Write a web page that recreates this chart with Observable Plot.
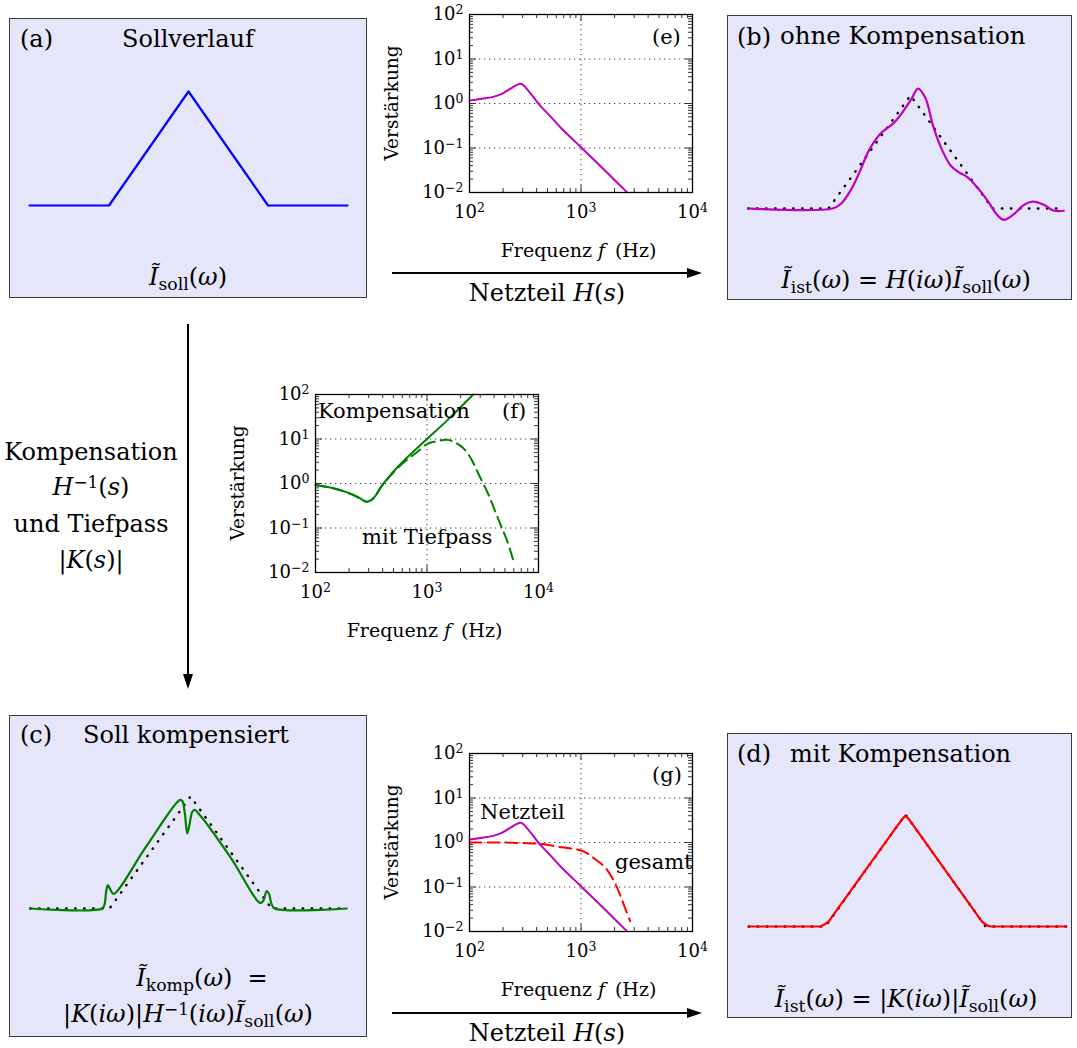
<!DOCTYPE html>
<html><head><meta charset="utf-8">
<script src="https://cdn.jsdelivr.net/npm/d3@7"></script>
<script src="https://cdn.jsdelivr.net/npm/@observablehq/plot@0.6"></script>
<style>
body{margin:0;background:#fff;}
#root{position:relative;width:1077px;height:1048px;overflow:hidden;font-family:"DejaVu Serif",serif;color:#000;}
.sub{font-size:0.72em;position:relative;top:0.32em;}
.sup{font-size:0.7em;position:relative;top:-0.42em;}
</style></head>
<body><div id="root"></div>
<script>
// ---------- data: shape panels (x in triangle half-widths, y in peak heights) ----------
const sollX = [-2, -1, 0, 1, 2];
const sollY = [0, 0, 1, 0, 0];
const ohneRefX = [-1.98, -1, 0, 1, 1.87];
const kompRefX = [-1.98, -1, 0, 1, 1.94];
const mitRefX = [-1.96, -1, 0, 1, 2.01];
const refY = [0, 0, 1, 0, 0];
const ohneX = [-1.98,-0.95,-0.85,-0.73,-0.61,-0.51,-0.37,-0.20,-0.08,0.02,0.09,0.18,0.28,0.39,0.49,0.59,0.69,0.81,0.94,1.06,1.14,1.26,1.38,1.50,1.63,1.75,1.87];
const ohneY = [0,0,0.04,0.16,0.34,0.51,0.66,0.76,0.87,0.98,1.06,0.98,0.72,0.51,0.38,0.32,0.28,0.19,0.07,-0.06,-0.10,-0.05,0.03,0.06,0.03,-0.02,-0.02];
const kompX = [-1.98,-1.09,-1.06,-1.04,-1.02,-0.99,-0.95,-0.55,-0.13,-0.10,-0.07,-0.04,-0.01,0.02,0.05,0.12,0.50,0.86,0.90,0.94,0.97,1.00,1.04,1.93];
const kompY = [0,0,0.04,0.16,0.21,0.17,0.13,0.55,0.97,0.96,0.85,0.67,0.76,0.86,0.88,0.83,0.45,0.05,0.07,0.155,0.13,0.04,0,0];
const mitX = [-1.96,-1.07,-1.02,-0.96,-0.04,0,0.04,0.96,1.02,1.07,2.01];
const mitY = [0,0,0.015,0.045,0.96,0.99,0.96,0.04,0.01,0,0];

// ---------- data: Bode magnitudes (Hz, gain) ----------
const freqH = [100,130,160,195,240,270,285,300,326,375,416,511,673,1000,1400,1766,2576];
const gainH = [1.17,1.28,1.39,1.65,2.25,2.65,2.77,2.65,2.14,1.39,0.98,0.57,0.27,0.104,0.046,0.026,0.0102];
const freqInv = [100,136,192,245,286,310,345,383,471,620,1000,1510,2595];
const gainInv = [0.93,0.81,0.63,0.48,0.39,0.41,0.53,0.81,1.57,3.25,10,25.9,100];
const freqTP = [100,136,192,245,286,310,345,383,471,620,800,1000,1200,1510,1740,2000,2290,2600,3000,3500,3960,4500,5240,5970];
const gainTP = [0.93,0.81,0.63,0.48,0.39,0.41,0.53,0.81,1.5,3.0,4.9,7.7,8.8,9.6,8.6,7.0,5.0,2.9,1.36,0.62,0.29,0.13,0.051,0.018];
const freqGes = [100,200,300,446,675,890,1100,1340,1660,2040,2410,2760];
const gainGes = [1.0,1.0,0.97,0.92,0.78,0.71,0.6,0.42,0.27,0.115,0.041,0.017];

// ---------- tick values ----------
const decadeF = [100, 1000, 10000];
const decadeG = [0.01, 0.1, 1, 10, 100];
const gridF = [1000];
const gridG = [0.1, 1, 10];
const minorSteps = [2,3,4,5,6,7,8,9];

const FONT = '"DejaVu Serif", serif';
const MAGENTA = "#bf00bf", GREEN = "#008000", RED = "#ff0000", BLUE = "#0000ff";
const root = document.getElementById("root");
const pts = (xs, ys) => xs.map((x, i) => ({x, y: ys[i]}));

function label(html, x, baseline, size, align = "left") {
  const d = document.createElement("div");
  d.innerHTML = html;
  d.style.cssText = `position:absolute;white-space:nowrap;font-family:${FONT};font-size:${size}px;line-height:1;top:${baseline - 0.846 * size}px;left:${x}px;`;
  if (align === "center") d.style.transform = "translateX(-50%)";
  root.appendChild(d);
}
function vlabel(text, cx, cy, size) {
  const d = document.createElement("div");
  d.textContent = text;
  d.style.cssText = `position:absolute;white-space:nowrap;font-family:${FONT};font-size:${size}px;line-height:1;left:${cx}px;top:${cy}px;transform:translate(-50%,-50%) rotate(-90deg);`;
  root.appendChild(d);
}

function shapePanel(box, geom, marks) {
  const [L, T, R, B] = box;
  const div = document.createElement("div");
  div.style.cssText = `position:absolute;left:${L}px;top:${T}px;width:${R - L}px;height:${B - T}px;box-sizing:border-box;background:#e6e6fa;border:1px solid #3a3a3a;`;
  root.appendChild(div);
  const w = R - L - 2, h = B - T - 2;
  const ox = geom.cx - (L + 1), oy = geom.base - (T + 1);
  const svg = Plot.plot({
    width: w, height: h, margin: 0,
    x: {domain: [-ox / geom.ux, (w - ox) / geom.ux], axis: null},
    y: {domain: [(oy - h) / geom.uy, oy / geom.uy], axis: null},
    style: {background: "transparent", overflow: "hidden"},
    marks
  });
  svg.style.position = "absolute"; svg.style.left = "0px"; svg.style.top = "0px";
  div.appendChild(svg);
}
const refDots = (xs) => Plot.line(pts(xs, refY), {x: "x", y: "y", stroke: "#000", strokeWidth: 2.4, strokeDasharray: "0.5,8.5", strokeLinecap: "round"});

function supFix(svg) {
  svg.querySelectorAll("text").forEach(t => {
    const m = t.textContent.match(/^10\^(-?\d+)$/);
    if (!m) return;
    t.textContent = "";
    t.setAttribute("font-size", "18");
    t.style.fontSize = "18px";
    t.style.fontFamily = FONT;
    t.style.fontVariant = "normal";
    const ns = "http://www.w3.org/2000/svg";
    const a = document.createElementNS(ns, "tspan"); a.textContent = "10";
    const b = document.createElementNS(ns, "tspan"); b.textContent = m[1].replace("-", "\u2212");
    b.style.fontSize = "12.5px"; b.setAttribute("dy", "-0.5em");
    t.appendChild(a); t.appendChild(b);
  });
}

function bode(fx, fy, lines) {
  const W = 223, H = 178, mL = 110, mR = 30, mT = 12, mB = 80;
  const minorF = [100, 1000].flatMap(d => minorSteps.map(k => k * d));
  const minorG = [0.01, 0.1, 1, 10].flatMap(d => minorSteps.map(k => +(k * d).toPrecision(3)));
  const tk = {stroke: "#333", strokeWidth: 1};
  const svg = Plot.plot({
    width: W + mL + mR, height: H + mT + mB,
    marginLeft: mL, marginRight: mR, marginTop: mT, marginBottom: mB,
    x: {type: "log", domain: [100, 10000], ticks: decadeF, tickSize: 0, tickPadding: 13, tickFormat: d => "10^" + Math.round(Math.log10(d)), label: null},
    y: {type: "log", domain: [0.01, 100], ticks: decadeG, tickSize: 0, tickPadding: 6, tickFormat: d => "10^" + Math.round(Math.log10(d)), label: null},
    style: {background: "transparent", fontFamily: FONT, fontSize: "18px", color: "#000", overflow: "visible"},
    marks: [
      Plot.ruleY(gridG, {stroke: "#444", strokeWidth: 1, strokeDasharray: "1.3,3.7"}),
      Plot.ruleX(gridF, {stroke: "#444", strokeWidth: 1, strokeDasharray: "1.3,3.7"}),
      Plot.ruleX(minorF, {...tk, insetTop: H - 4}),
      Plot.ruleX(minorF, {...tk, insetBottom: H - 4}),
      Plot.ruleX(decadeF, {...tk, insetTop: H - 7}),
      Plot.ruleX(decadeF, {...tk, insetBottom: H - 7}),
      Plot.ruleY(minorG, {...tk, insetRight: W - 4}),
      Plot.ruleY(minorG, {...tk, insetLeft: W - 4}),
      Plot.ruleY(decadeG, {...tk, insetRight: W - 7}),
      Plot.ruleY(decadeG, {...tk, insetLeft: W - 7}),
      ...lines,
      Plot.frame({stroke: "#000", strokeWidth: 1.3})
    ]
  });
  supFix(svg);
  svg.style.position = "absolute";
  svg.style.left = (fx - mL) + "px";
  svg.style.top = (fy - mT) + "px";
  root.appendChild(svg);
  label('Frequenz <i>f</i>&thinsp; (Hz)', fx + W / 2 - 2, fy + H + 65, 19, "center");
  vlabel("Verstärkung", fx - 77, fy + H / 2, 18.5);
}
const lineH = () => Plot.line(pts(freqH, gainH), {x: "x", y: "y", stroke: MAGENTA, strokeWidth: 2, curve: "catmull-rom"});

// ---------- panel (a) ----------
shapePanel([9, 18, 367, 298], {cx: 188, base: 205, ux: 79.5, uy: 114}, [
  Plot.line(pts(sollX, sollY), {x: "x", y: "y", stroke: BLUE, strokeWidth: 2.2})
]);
label("(a)", 20, 47, 24);
label("Sollverlauf", 188, 47, 24, "center");
label('<i>Ĩ</i><span class="sub">soll</span>(<i>ω</i>)', 188, 285, 24, "center");

// ---------- panel (b) ----------
shapePanel([727, 15, 1072, 300], {cx: 910, base: 208, ux: 82, uy: 113}, [
  refDots(ohneRefX),
  Plot.line(pts(ohneX, ohneY), {x: "x", y: "y", stroke: MAGENTA, strokeWidth: 2.2, curve: "catmull-rom"})
]);
label("(b)", 737, 45, 24);
label("ohne Kompensation", 780, 45, 24.5);
label('<i>Ĩ</i><span class="sub">ist</span>(<i>ω</i>) = <i>H</i>(<i>iω</i>)<i>Ĩ</i><span class="sub">soll</span>(<i>ω</i>)', 906, 288, 24, "center");

// ---------- panel (c) ----------
shapePanel([9, 715, 367, 1037], {cx: 190, base: 908, ux: 81, uy: 112}, [
  refDots(kompRefX),
  Plot.line(pts(kompX, kompY), {x: "x", y: "y", stroke: GREEN, strokeWidth: 2.2, curve: "catmull-rom"})
]);
label("(c)", 20, 743, 24);
label("Soll kompensiert", 83, 743, 24);
label('<i>Ĩ</i><span class="sub">komp</span>(<i>ω</i>) &nbsp;=', 202, 986, 24, "center");
label('|<i>K</i>(<i>iω</i>)|<i>H</i><span class="sup">−1</span>(<i>iω</i>)<i>Ĩ</i><span class="sub">soll</span>(<i>ω</i>)', 188, 1022, 24, "center");

// ---------- panel (d) ----------
shapePanel([727, 733, 1072, 1018], {cx: 905, base: 926, ux: 80, uy: 112}, [
  refDots(mitRefX),
  Plot.line(pts(mitX, mitY), {x: "x", y: "y", stroke: RED, strokeWidth: 2.2})
]);
label("(d)", 737, 762, 24);
label("mit Kompensation", 790, 762, 24);
label('<i>Ĩ</i><span class="sub">ist</span>(<i>ω</i>) = |<i>K</i>(<i>iω</i>)|<i>Ĩ</i><span class="sub">soll</span>(<i>ω</i>)', 906, 1007, 24, "center");

// ---------- Bode (e) ----------
bode(469, 14, [lineH()]);
label("(e)", 652, 45, 21);

// ---------- Bode (f) ----------
bode(315, 394, [
  Plot.line(pts(freqTP, gainTP), {x: "x", y: "y", stroke: GREEN, strokeWidth: 2, strokeDasharray: "11,6", curve: "catmull-rom"}),
  Plot.line(pts(freqInv, gainInv), {x: "x", y: "y", stroke: GREEN, strokeWidth: 2, curve: "catmull-rom"})
]);
label("Kompensation", 318, 419, 21);
label("(f)", 502, 419, 21);
label("mit Tiefpass", 362, 545, 21);

// ---------- Bode (g) ----------
bode(469, 753, [
  lineH(),
  Plot.line(pts(freqGes, gainGes), {x: "x", y: "y", stroke: RED, strokeWidth: 2, strokeDasharray: "12,6", curve: "catmull-rom"})
]);
label("(g)", 652, 783, 21);
label("Netzteil", 480, 820, 21);
label("gesamt", 615, 870, 21);

// ---------- left text block ----------
label("Kompensation", 91, 460, 24, "center");
label('<i>H</i><span class="sup">−1</span>(<i>s</i>)', 91, 495, 24, "center");
label("und Tiefpass", 91, 532, 24, "center");
label('|<i>K</i>(<i>s</i>)|', 91, 568, 24, "center");

// ---------- arrows and their captions ----------
const ns = "http://www.w3.org/2000/svg";
const arr = document.createElementNS(ns, "svg");
arr.setAttribute("width", 1077); arr.setAttribute("height", 1048);
arr.style.cssText = "position:absolute;left:0;top:0;pointer-events:none;";
arr.innerHTML = `
 <line x1="392" y1="273" x2="690" y2="273" stroke="#000" stroke-width="2"/>
 <polygon points="702,273 687,268 687,278" fill="#000"/>
 <line x1="392" y1="1013" x2="690" y2="1013" stroke="#000" stroke-width="2"/>
 <polygon points="702,1013 687,1008 687,1018" fill="#000"/>
 <line x1="188" y1="324" x2="188" y2="677" stroke="#000" stroke-width="2"/>
 <polygon points="188,689 183,674 193,674" fill="#000"/>`;
root.appendChild(arr);
label('Netzteil <i>H</i>(<i>s</i>)', 547, 301, 24, "center");
label('Netzteil <i>H</i>(<i>s</i>)', 547, 1041, 24, "center");
</script>
</body></html>
